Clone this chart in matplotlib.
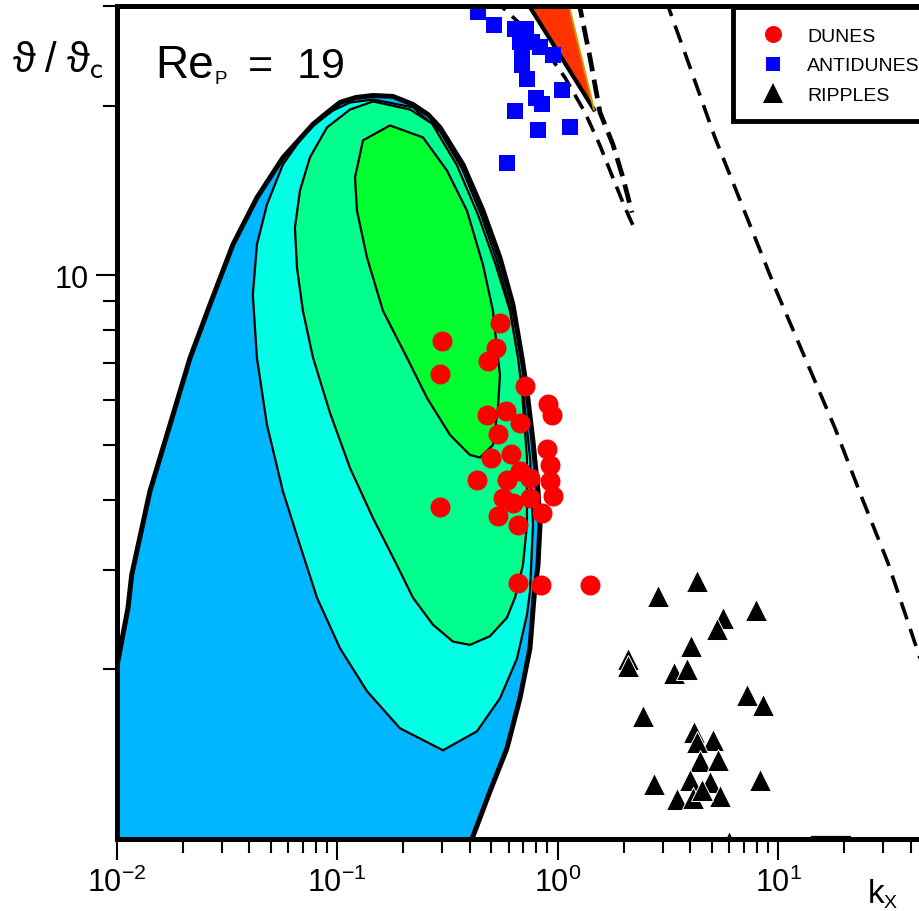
import matplotlib
matplotlib.use('Agg')
import matplotlib.pyplot as plt
from matplotlib.patches import Rectangle
from matplotlib.ticker import LogLocator, NullFormatter, FixedLocator, FixedFormatter

plt.rcParams['font.family'] = ['Liberation Sans', 'DejaVu Sans']
plt.rcParams['mathtext.fontset'] = 'custom'
plt.rcParams['mathtext.rm'] = 'Liberation Sans'
plt.rcParams['mathtext.it'] = 'Liberation Sans:italic'
plt.rcParams['mathtext.default'] = 'regular'

# --- unstable region (zero growth contour) ---
outer_x = [0.0095, 0.0100, 0.01127, 0.01171, 0.01417, 0.01747, 0.02153, 0.02652, 0.03372,
           0.04331, 0.05684, 0.07775, 0.0891, 0.1031, 0.1218, 0.1455, 0.1793, 0.2209,
           0.2584, 0.2929, 0.3724, 0.4589,
           0.5481, 0.6276, 0.6896, 0.7264, 0.7734, 0.8150, 0.8323, 0.815, 0.7817, 0.7497,
           0.6752, 0.5894, 0.4937, 0.4090, 0.4090, 0.0095]
outer_y = [2.01, 2.01, 2.57, 2.94, 4.14, 5.43, 7.13, 8.87, 11.34,
           13.73, 16.17, 18.52, 19.36, 20.26, 20.67, 20.84, 20.76, 20.09,
           19.28, 18.29, 15.72, 13.02,
           10.74, 8.87, 7.14, 6.24, 5.08, 4.14, 3.61, 3.06, 2.68, 2.18,
           1.777, 1.448, 1.215, 1.0, 0.95, 0.95]

cyan_x = [0.1455, 0.2209, 0.2929, 0.3685, 0.4495, 0.5310, 0.6083, 0.6544, 0.6966, 0.7497,
          0.7734, 0.7497, 0.7265, 0.6544, 0.5481, 0.4310, 0.3021, 0.1929, 0.1367, 0.1031,
          0.0811, 0.0679, 0.0568, 0.0481, 0.0433, 0.0415, 0.0433, 0.0481, 0.0568, 0.0730,
          0.0958, 0.1145]
cyan_y = [20.50, 19.85, 17.99, 15.46, 12.81, 10.61, 8.76, 7.14, 6.24, 4.75,
          3.61, 2.75, 2.50, 2.09, 1.777, 1.553, 1.437, 1.572, 1.829, 2.18,
          2.68, 3.32, 4.14, 5.43, 7.14, 9.24, 11.33, 13.35, 15.72, 18.07,
          19.60, 20.25]

spring_x = [0.1455, 0.2141, 0.2693, 0.3499, 0.4355, 0.5201, 0.6083, 0.6612, 0.6896, 0.7265,
            0.7265, 0.6966, 0.6409, 0.5895, 0.4937, 0.4005, 0.3354, 0.2722, 0.2209, 0.1869,
            0.1455, 0.1145, 0.0929, 0.0778, 0.0700, 0.0658, 0.0644, 0.0679, 0.0753, 0.0900,
            0.1145]
spring_y = [20.34, 19.68, 18.59, 15.66, 12.81, 10.53, 8.65, 7.14, 6.24, 4.75,
            3.61, 3.06, 2.68, 2.47, 2.29, 2.21, 2.24, 2.40, 2.68, 3.06,
            3.71, 4.55, 5.70, 7.14, 8.65, 10.31, 12.15, 14.14, 16.18, 18.29,
            19.68]

green_x = [0.1737, 0.2452, 0.3150, 0.3882, 0.4589, 0.5093, 0.5367, 0.5481, 0.5367, 0.5093,
           0.4446, 0.4005, 0.3251, 0.2557, 0.2075, 0.1615, 0.1367, 0.1231, 0.1206, 0.1311]
green_y = [18.44, 17.56, 15.34, 13.02, 10.44, 8.65, 7.14, 6.66, 5.82, 5.00,
           4.75, 4.80, 5.21, 6.06, 7.14, 8.65, 10.75, 13.02, 14.91, 17.35]

# --- narrow red region and dashed curves near the top ---
wedge_x = [0.704, 1.462, 1.103]
wedge_y = [31.1, 19.68, 31.1]

dash1_x = [0.504, 0.832, 1.080, 1.331, 1.557, 1.765, 2.021, 2.243]
dash1_y = [31.1, 25.88, 22.43, 19.45, 16.99, 15.03, 13.19, 12.05]
dash2_x = [1.237, 1.403, 1.557, 1.783, 1.979, 2.175]
dash2_y = [31.1, 24.35, 19.45, 17.06, 14.91, 12.92]
dash3_x = [3.07, 3.99, 5.17, 7.08, 9.68, 13.24, 18.11, 24.0, 31.5, 39.6, 48.9]
dash3_y = [31.1, 23.37, 17.56, 12.92, 9.51, 7.14, 5.36, 4.03, 3.09, 2.37, 1.85]
dash4_x = [14.2, 21.2]
dash4_y = [1.008, 1.008]

# --- experimental points ---
dunes_x = [0.548, 0.299, 0.526, 0.483, 0.293, 0.711, 0.905, 0.943, 0.478, 0.583, 0.675,
           0.537, 0.895, 0.499, 0.615, 0.924, 0.750, 0.924, 0.431, 0.589, 0.675, 0.565,
           0.750, 0.953, 0.628, 0.850, 0.537, 0.293, 0.661, 0.661, 0.841, 1.403]
dunes_y = [8.24, 7.65, 7.44, 7.05, 6.69, 6.37, 5.92, 5.66, 5.66, 5.75, 5.47,
           5.23, 4.92, 4.75, 4.82, 4.61, 4.37, 4.32, 4.34, 4.34, 4.50, 4.03,
           4.03, 4.06, 3.95, 3.79, 3.74, 3.88, 3.61, 2.85, 2.82, 2.82]

anti_x = [0.4355, 0.5147, 0.641, 0.719, 0.675, 0.765, 0.690, 0.832, 0.953, 0.690,
          0.727, 0.798, 0.850, 1.047, 0.641, 0.815, 1.138, 0.589]
anti_y = [29.27, 27.76, 27.31, 27.31, 25.88, 25.88, 24.85, 25.36, 24.55, 23.57,
          22.25, 20.67, 20.09, 21.27, 19.60, 18.07, 18.29, 15.79]

ripple_x = [4.287, 2.852, 7.94, 5.62, 5.28, 4.03, 2.085, 2.085, 3.37, 3.86, 7.23, 8.54,
            2.44, 4.15, 5.07, 4.29, 4.42, 5.34, 2.74, 8.28, 3.99, 4.91, 3.48, 4.11,
            5.45, 4.52, 5.99]
ripple_y = [2.87, 2.70, 2.55, 2.47, 2.36, 2.20, 2.09, 2.03, 1.97, 2.00, 1.80, 1.727,
            1.652, 1.547, 1.497, 1.485, 1.374, 1.380, 1.251, 1.271, 1.271, 1.260, 1.176, 1.181,
            1.191, 1.220, 0.990]

xtick_vals = [1e-2, 1e-1, 1e0, 1e1]
xtick_labels = ['$10^{-2}$', '$10^{-1}$', '$10^{0}$', '$10^{1}$']

fig = plt.figure(figsize=(9.2, 9.12), dpi=100)
ax = fig.add_axes([0.1267, 0.0789, 0.9587, 0.9131])
ax.set_xscale('log')
ax.set_yscale('log')
ax.set_xlim(1e-2, 1e2)
ax.set_ylim(1, 30)

# filled stability regions
ax.fill(outer_x, outer_y, color='#00B6FF', lw=0, zorder=1)
ax.plot(outer_x[1:36], outer_y[1:36], color='black', lw=3.6, zorder=3,
        solid_joinstyle='round')
ax.fill(cyan_x, cyan_y, facecolor='#00FFE4', edgecolor='black', lw=1.6, zorder=2)
ax.fill(spring_x, spring_y, facecolor='#00FF8C', edgecolor='black', lw=1.6, zorder=2.1)
ax.fill(green_x, green_y, facecolor='#00FF30', edgecolor='black', lw=1.6, zorder=2.2)

ax.fill(wedge_x, wedge_y, color='#FF3300', lw=0, zorder=2)
ax.plot(wedge_x[:2], wedge_y[:2], color='black', lw=3, zorder=3)
ax.plot(wedge_x[1:], wedge_y[1:], color='#C89B00', lw=1.5, zorder=3)

ax.plot(dash1_x, dash1_y, color='black', lw=2.6, dashes=(4.5, 2.5), zorder=3)
ax.plot(dash2_x, dash2_y, color='black', lw=3.4, dashes=(4.0, 1.8), zorder=3)
ax.plot(dash3_x, dash3_y, color='black', lw=2.6, dashes=(5.0, 2.8), zorder=3)
ax.plot(dash4_x, dash4_y, color='black', lw=1.6, zorder=3)

# data points
ax.plot(dunes_x, dunes_y, 'o', color='#FF0000', ms=14.4, mew=0, ls='none',
        label='DUNES', zorder=6)
ax.plot(anti_x, anti_y, 's', color='#0000FF', ms=11.5, mew=0, ls='none',
        label='ANTIDUNES', zorder=6)
ax.plot(ripple_x, ripple_y, '^', color='black', mec='white', ms=16.5, mew=0.7, ls='none',
        label='RIPPLES', zorder=6)

# axes styling
for sp in ax.spines.values():
    sp.set_linewidth(3.6)
    sp.set_zorder(7)
ax.xaxis.set_major_locator(FixedLocator(xtick_vals))
ax.xaxis.set_major_formatter(FixedFormatter(xtick_labels))
ax.xaxis.set_minor_locator(LogLocator(base=10, subs=range(2, 10)))
ax.xaxis.set_minor_formatter(NullFormatter())
ax.yaxis.set_major_locator(FixedLocator([10]))
ax.yaxis.set_major_formatter(FixedFormatter(['10']))
ax.yaxis.set_minor_locator(LogLocator(base=10, subs=range(2, 10)))
ax.yaxis.set_minor_formatter(NullFormatter())
ax.tick_params(which='major', direction='out', length=15, width=1.5, labelsize=22, pad=5)
ax.tick_params(which='minor', direction='out', length=10, width=1.5)

# legend box runs past the right edge of the picture, as in the reference
box = Rectangle((733 / 920, 1 - 122 / 912), 300 / 920, 114 / 912, transform=fig.transFigure,
                facecolor='white', edgecolor='black', lw=3.5, clip_on=False, zorder=7.5)
ax.add_patch(box)
leg = ax.legend(loc='upper left', bbox_to_anchor=(733 / 920, 1 - 8 / 912),
                bbox_transform=fig.transFigure, fontsize=14, frameon=False,
                markerscale=0.85, handlelength=2.0, handletextpad=0.77, borderpad=1.05,
                labelspacing=0.6, borderaxespad=0)
leg.set_zorder(8)
for h in leg.legend_handles:
    h.set_markeredgewidth(0)

# Re_P = 19, with a small subscript
fig.text(155 / 920, 1 - 78 / 912, 'Re', fontsize=33, va='baseline', ha='left')
fig.text(215 / 920, 1 - 84 / 912, 'P', fontsize=13.5, va='baseline', ha='left')
fig.text(248 / 920, 1 - 78 / 912, '=  19', fontsize=31, va='baseline', ha='left')

fig.text(58 / 920, 1 - 60 / 912, r'$\vartheta\;/\;\vartheta_{\mathsf{c}}$', fontsize=30,
         va='center', ha='center', math_fontfamily='cm')
fig.text(868 / 920, 1 - 903 / 912, 'k', fontsize=24, va='baseline', ha='left')
fig.text(884 / 920, 1 - 908 / 912, 'X', fontsize=14, va='baseline', ha='left')

fig.savefig('out.png', dpi=100)
